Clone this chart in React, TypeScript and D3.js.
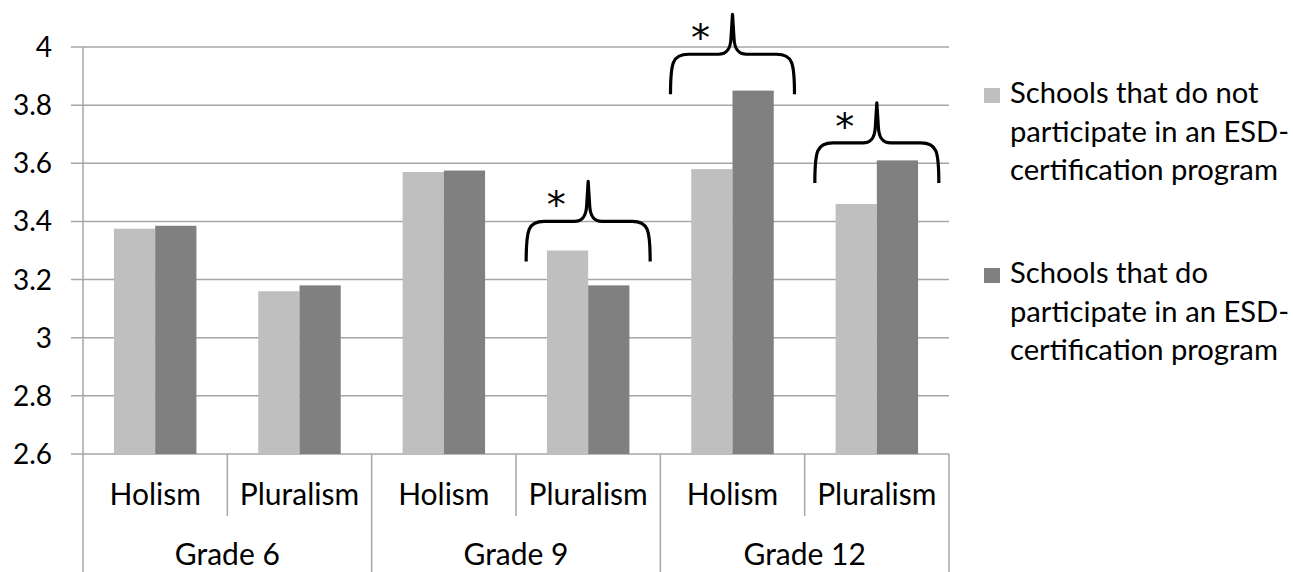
import * as d3 from 'd3'

// values
const grades = ['Grade 6', 'Grade 9', 'Grade 12']
const dimensions = ['Holism', 'Pluralism']
const seriesNames = [
  ['Schools that do not', 'participate in an ESD-', 'certification program'],
  ['Schools that do', 'participate in an ESD-', 'certification program'],
]
const notParticipating = [3.375, 3.16, 3.57, 3.3, 3.58, 3.46]
const participating = [3.385, 3.18, 3.575, 3.18, 3.85, 3.61]
const yTicks = [2.6, 2.8, 3, 3.2, 3.4, 3.6, 3.8, 4]
// significant differences: category index and the level of the brace
const sigIndex = [3, 4, 5]
const sigLevel = [3.4, 3.975, 3.67]

const colors = ['#bfbfbf', '#808080']
const font = 'Lato, "Open Sans", sans-serif'

const App = () => {
  const width = 1293
  const height = 572
  const margin = { top: 47, left: 83, right: 344, bottom: 118 }

  const cats = grades.flatMap(g => dimensions.map(d => `${g}|${d}`))
  const x0 = d3.scaleBand<string>()
    .domain(cats)
    .range([margin.left, width - margin.right])
  const x1 = d3.scaleBand<number>()
    .domain([0, 1])
    .range([0, x0.bandwidth()])
    .paddingOuter(0.75)
  const y = d3.scaleLinear()
    .domain([2.6, 4])
    .range([height - margin.bottom, margin.top])

  const series = [notParticipating, participating]
  const base = y(2.6)
  const gridColor = '#a6a6a6'

  //curly brace over a pair of bars
  const brace = (cx: number, yH: number) => {
    const hw = 62
    const drop = 40
    const rise = 40
    return [
      `M${cx - hw},${yH + drop}`,
      `C${cx - hw},${yH + 8} ${cx - hw + 2},${yH} ${cx - hw + 18},${yH}`,
      `L${cx - 14},${yH}`,
      `C${cx - 5},${yH} ${cx - 2},${yH - 6} ${cx - 1.5},${yH - 16}`,
      `L${cx},${yH - rise}`,
      `L${cx + 1.5},${yH - 16}`,
      `C${cx + 2},${yH - 6} ${cx + 5},${yH} ${cx + 14},${yH}`,
      `L${cx + hw - 18},${yH}`,
      `C${cx + hw - 2},${yH} ${cx + hw},${yH + 8} ${cx + hw},${yH + drop}`,
    ].join(' ')
  }

  const boundaries = d3.range(cats.length + 1).map(i => margin.left + i * x0.step())

  return (
    <svg width={width} height={height} style={{ position: 'absolute', left: 0, top: 0, background: '#fff' }}
      fontFamily={font}>
      {/* gridlines, extended to the left as tick marks */}
      {yTicks.map(t => (
        <line key={t} x1={margin.left - 12} x2={width - margin.right} y1={y(t)} y2={y(t)}
          stroke={gridColor} strokeWidth={1.5} />
      ))}
      {yTicks.map(t => (
        <text key={'l' + t} x={52} y={y(t) + 10} textAnchor="end" fontSize={28} fill="#000">
          {d3.format('')(t)}
        </text>
      ))}
      <line x1={margin.left} x2={margin.left} y1={margin.top} y2={base} stroke={gridColor} strokeWidth={1.5} />

      {/* bars */}
      {cats.map((c, i) => (
        <g key={c} transform={`translate(${x0(c)},0)`}>
          {series.map((s, j) => (
            <rect key={j} x={x1(j)} width={x1.bandwidth()} y={y(s[i])} height={base - y(s[i])}
              fill={colors[j]} />
          ))}
        </g>
      ))}

      {/* category axis */}
      {boundaries.map((bx, i) => (
        <line key={'b' + i} x1={bx} x2={bx} y1={base} y2={i % 2 === 0 ? height : 516}
          stroke={gridColor} strokeWidth={1.5} />
      ))}
      {cats.map(c => (
        <text key={'c' + c} x={x0(c)! + x0.bandwidth() / 2} y={505} textAnchor="middle" fontSize={30}>
          {c.split('|')[1]}
        </text>
      ))}
      {grades.map((g, i) => (
        <text key={g} x={margin.left + (i * 2 + 1) * x0.step()} y={565} textAnchor="middle" fontSize={30}>
          {g}
        </text>
      ))}

      {/* significance braces */}
      {sigIndex.map((ci, k) => {
        const cx = x0(cats[ci])! + x0.bandwidth() / 2
        const yH = y(sigLevel[k])
        return (
          <g key={'s' + ci}>
            <path d={brace(cx, yH)} fill="none" stroke="#000" strokeWidth={3.2} strokeLinejoin="round" />
            <text x={cx - 32} y={yH - 3} textAnchor="middle" fontSize={38}
              fontFamily='"DejaVu Sans", sans-serif'>*</text>
          </g>
        )
      })}

      {/* legend */}
      {seriesNames.map((lines, j) => (
        <g key={'lg' + j} transform={`translate(984,${j === 0 ? 103 : 283})`}>
          <rect x={0} y={-15} width={16} height={15} fill={colors[j]} />
          {lines.map((ln, k) => (
            <text key={k} x={26} y={k * 38.5} fontSize={29.2}>{ln}</text>
          ))}
        </g>
      ))}
    </svg>
  )
}

export default App
